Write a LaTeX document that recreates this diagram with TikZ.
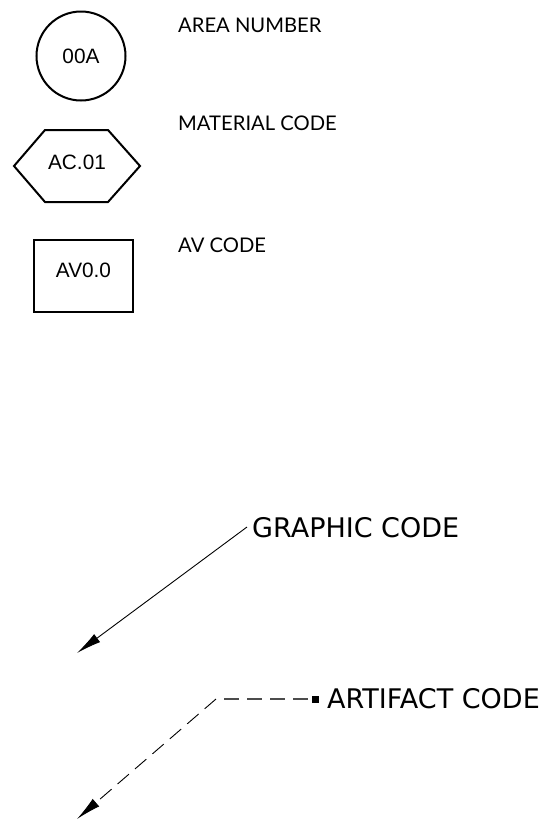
\documentclass[tikz,border=0pt]{standalone}
\usepackage{fontspec}
\setmainfont{Liberation Sans}
\newfontfamily\latofont{Lato}
\newfontfamily\dvfont{DejaVu Sans}
\usetikzlibrary{arrows.meta}
\begin{document}
\begin{tikzpicture}[x=1pt,y=-1pt,
  shapetext/.style={font=\fontsize{20.8}{24}\selectfont},
  legend/.style={anchor=west,inner sep=0pt,font=\latofont\fontsize{20.2}{24}\selectfont},
  calltext/.style={anchor=west,inner sep=0pt,font=\dvfont\fontsize{27}{32}\selectfont},
  arrowtip/.style={-{Latex[length=25pt,width=10pt]}}
]
\useasboundingbox (0,0) rectangle (550,820);
% area number
\node[circle,draw,line width=2pt,minimum size=89pt,inner sep=0pt,shapetext] (area) at (81,56) {00A};
\node[legend] (arealbl) at (178,25) {AREA NUMBER};
% material code
\draw[line width=2pt,line join=miter] (14,166) -- (45,130) -- (108,130) -- (140,166) -- (108,202) -- (45,202) -- cycle;
\node[shapetext] (mat) at (77,162) {AC.01};
\node[legend] (matlbl) at (178,123) {MATERIAL CODE};
% av code
\node[draw,line width=2.4pt,minimum width=99pt,minimum height=72pt,inner sep=0pt] (av) at (83.5,276) {};
\node[shapetext] (avt) at (83.5,270) {AV0.0};
\node[legend] (avlbl) at (178,245) {AV CODE};
% graphic code
\node[calltext] (gc) at (252,528) {GRAPHIC CODE};
\coordinate (gstart) at (247,527);
\coordinate (gtip) at (77,653);
\draw[line width=0.9pt,arrowtip] (gstart) -- (gtip);
% artifact code
\node[calltext] (ac) at (327,699) {ARTIFACT CODE};
\node[fill=black,minimum size=7pt,inner sep=0pt] (sq) at (315,699) {};
\coordinate (bend) at (216,699);
\coordinate (atip) at (77,819);
\draw[line width=1.6pt,black!70,dash pattern=on 15pt off 8pt] ([xshift=8pt]bend) -- (sq.west);
\draw[line width=0.9pt,dash pattern=on 15pt off 8pt,arrowtip] (bend) -- (atip);
\end{tikzpicture}
\end{document}
